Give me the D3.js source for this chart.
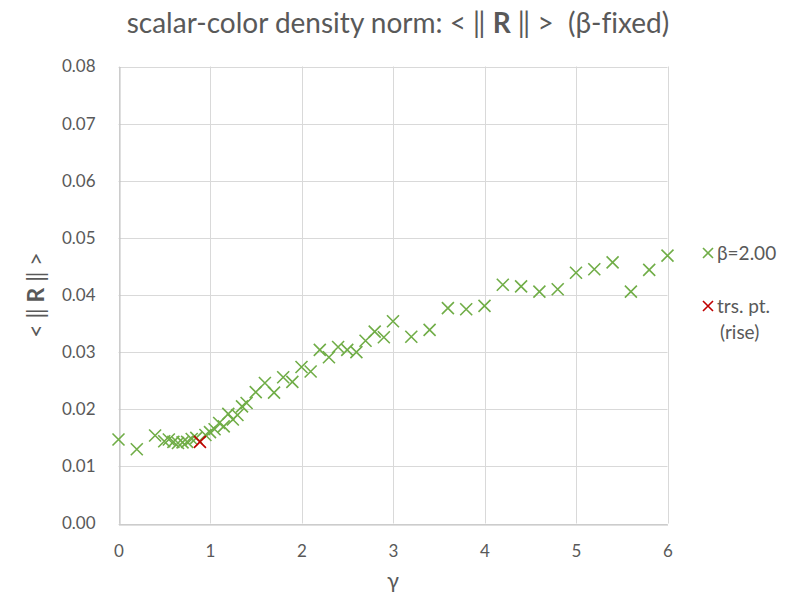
<!DOCTYPE html>
<html><head><meta charset="utf-8">
<script src="https://cdn.jsdelivr.net/npm/d3@7"></script>
<style>body{margin:0;background:#fff;} svg{display:block;} text{white-space:pre;font-variant-ligatures:none;}</style>
</head><body>
<script>
const gammaVals = [0,0.2,0.4,0.5,0.55,0.6,0.65,0.7,0.75,0.8,0.85,0.95,1.0,1.05,1.1,1.15,1.2,1.25,1.3,1.35,1.4,
  1.5,1.6,1.7,1.8,1.9,2.0,2.1,2.2,2.3,2.4,2.5,2.6,2.7,2.8,2.9,3.0,3.2,3.4,3.6,3.8,4.0,4.2,4.4,4.6,4.8,5.0,5.2,5.4,5.6,5.8,6.0];
const normVals = [0.0147,0.0130,0.0154,0.0144,0.0147,0.0143,0.0141,0.0142,0.0143,0.0148,0.0150,0.0155,0.0160,0.0165,0.0176,0.0170,0.0192,0.0182,0.0190,0.0205,0.0211,
  0.0230,0.0246,0.0229,0.0256,0.0248,0.0274,0.0266,0.0304,0.0291,0.0309,0.0304,0.0300,0.0320,0.0336,0.0326,0.0354,0.0327,0.0339,0.0377,0.0375,0.0381,0.0418,0.0415,0.0406,0.0410,0.0439,0.0445,0.0457,0.0406,0.0444,0.0469];
const riseGamma = [0.89];
const riseNorm = [0.0143];
const xTicks = [0,1,2,3,4,5,6];
const yTicks = [0,0.01,0.02,0.03,0.04,0.05,0.06,0.07,0.08];
const seriesNames = ["β=2.00","trs. pt.","(rise)"];

const W=803,H=595;
const svg=d3.select("body").append("svg").attr("width",W).attr("height",H);
const font="Lato, 'Open Sans', sans-serif";
const txt="#595959";
const x=d3.scaleLinear().domain([0,6]).range([118.5,667.5]);
const y=d3.scaleLinear().domain([0,0.08]).range([523.5,66.5]);

// gridlines
svg.append("g").selectAll("line.h").data(yTicks).join("line")
  .attr("x1",x(0)).attr("x2",x(6)).attr("y1",d=>Math.round(y(d))+0.5).attr("y2",d=>Math.round(y(d))+0.5)
  .attr("stroke","#D9D9D9").attr("stroke-width",1);
svg.append("g").selectAll("line.v").data(xTicks).join("line")
  .attr("y1",y(0)).attr("y2",y(0.08)).attr("x1",d=>Math.round(x(d))+0.5).attr("x2",d=>Math.round(x(d))+0.5)
  .attr("stroke","#D9D9D9").attr("stroke-width",1);

// axes
const xAxis=d3.axisBottom(x).tickValues(xTicks).tickFormat(d3.format("d")).tickSize(0).tickPadding(20);
const gx=svg.append("g").attr("transform",`translate(0,${Math.round(y(0))+0.5})`).call(xAxis);
gx.select(".domain").attr("stroke","#BFBFBF");
gx.selectAll("text").attr("fill",txt).style("font-family",font).style("font-size","17px");
const yAxis=d3.axisLeft(y).tickValues(yTicks).tickFormat(d3.format(".2f")).tickSize(0).tickPadding(24);
const gy=svg.append("g").attr("transform",`translate(${Math.round(x(0))+0.5},0)`).call(yAxis);
gy.select(".domain").attr("stroke","#BFBFBF");
gy.selectAll("text").attr("fill",txt).style("font-family",font).style("font-size","17px");

function cross(g,cx,cy,color,s){
  g.append("path").attr("d",`M${cx-s},${cy-s}L${cx+s},${cy+s}M${cx-s},${cy+s}L${cx+s},${cy-s}`)
   .attr("stroke",color).attr("stroke-width",1.6).attr("fill","none");
}
const green="#70AD47", red="#C00000";
const pts=svg.append("g");
gammaVals.forEach((g,i)=>cross(pts,x(g),y(normVals[i]),green,6));
riseGamma.forEach((g,i)=>cross(pts,x(g),y(riseNorm[i]),red,6));

// title
const t=svg.append("text").attr("x",398).attr("y",33).attr("text-anchor","middle")
  .attr("fill",txt).style("font-family",font).style("font-size","28px");
t.append("tspan").text("scalar-color density norm: < ‖ ");
t.append("tspan").attr("font-weight","bold").text("R");
t.append("tspan").text(" ‖ >  (β-fixed)");

// axis titles
svg.append("text").attr("x",393).attr("y",588).attr("text-anchor","middle").attr("fill",txt)
  .style("font-family",font).style("font-size","22px").text("γ");
const yt=svg.append("text").attr("transform","translate(44,295) rotate(-90)").attr("text-anchor","middle")
  .attr("fill",txt).style("font-family",font).style("font-size","23px");
yt.append("tspan").text("< ‖ ");
yt.append("tspan").attr("font-weight","bold").text("R");
yt.append("tspan").text(" ‖ >");

// legend
const lg=svg.append("g");
const lfs="19px";
cross(lg,708,253,green,5);
lg.append("text").attr("x",717).attr("y",260).attr("fill",txt).style("font-family",font).style("font-size",lfs).text(seriesNames[0]);
cross(lg,708,306,red,5);
lg.append("text").attr("x",717).attr("y",313).attr("fill",txt).style("font-family",font).style("font-size",lfs).text(seriesNames[1]);
lg.append("text").attr("x",720).attr("y",339).attr("fill",txt).style("font-family",font).style("font-size",lfs).text(seriesNames[2]);
</script>
</body></html>
